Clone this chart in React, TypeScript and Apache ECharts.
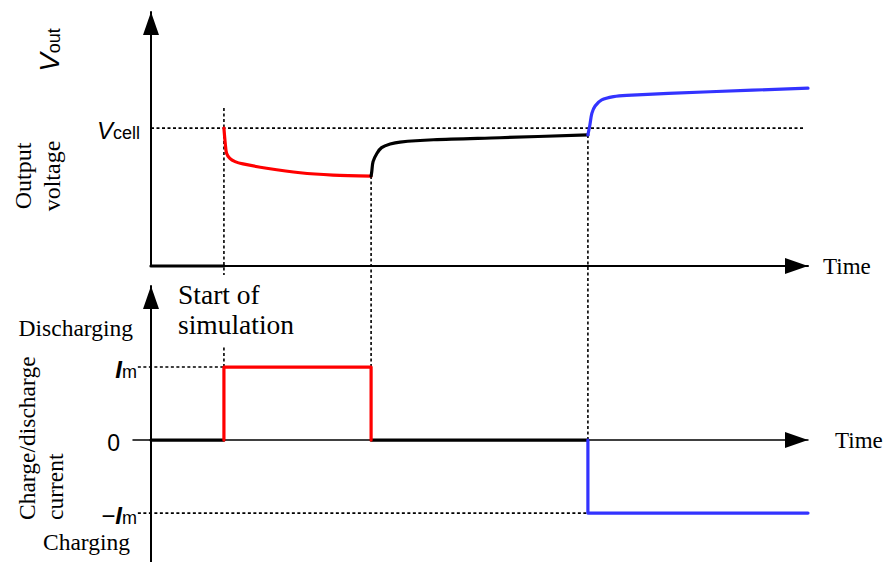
import React, { useEffect, useRef } from "react";
import * as echarts from "echarts";

// ---- event times (abstract time units, axis 0..100) ----
const tStart = 11.1;
const tRest = 33.5;
const tCharge = 66.5;
const tEnd = 100;

// ---- voltage panel (abstract units, axis 0..100) ----
const vCell = 54.3;
const idleTime = [0, tStart];
const idleVoltage = [0, 0];
const dischargeTime = [11.1, 11.3, 11.5, 12.0, 12.8, 14.0, 17.6, 22.7, 27.7, 33.5];
const dischargeVoltage = [54.3, 48.3, 44.4, 42.4, 41.1, 40.2, 38.5, 36.7, 35.8, 35.4];
const restTime = [33.5, 33.6, 33.8, 34.4, 35.1, 36.4, 37.9, 43.0, 53.1, 66.5];
const restVoltage = [35.4, 37.1, 41.1, 44.4, 46.6, 48.0, 48.8, 49.7, 50.5, 51.6];
const chargeTime = [66.5, 66.8, 67.1, 67.6, 68.6, 70.4, 72.4, 85.1, 100];
const chargeVoltage = [51.6, 55.5, 60.1, 63.0, 65.4, 66.7, 67.2, 68.6, 70.0];

// ---- current panel (Im = 1) ----
const Im = 1;
const idleCurrentTime = [0, tStart];
const idleCurrent = [0, 0];
const dischargeCurrentTime = [tStart, tStart, tRest, tRest];
const dischargeCurrent = [0, Im, Im, 0];
const restCurrentTime = [tRest, tCharge];
const restCurrent = [0, 0];
const chargeCurrentTime = [tCharge, tCharge, tEnd];
const chargeCurrent = [0, -Im, -Im];

// tick labels
const voltageTicks = [vCell];
const currentTicks = [-Im, 0, Im];

const SERIF = '"Times New Roman", "Liberation Serif", serif';
const SANS = 'Arial, "Liberation Sans", sans-serif';
const RED = "#ff0000";
const BLUE = "#3333ff";

// layout
const W = 885;
const H = 562;
const TOP_GRID = { left: 151, right: 77, top: 12, height: 254 };
const BOT_GRID = { left: 133, right: 77, top: 286, bottom: 0 };
const V_MIN = 0;
const V_MAX = 100;
const I_MIN = -1.67;
const I_MAX = 2.11;
const X_MAX = 100;
const pxPerT = (W - TOP_GRID.left - TOP_GRID.right) / X_MAX;
const BOT_X_MIN = -(TOP_GRID.left - BOT_GRID.left) / pxPerT;
const pxPerV = TOP_GRID.height / (V_MAX - V_MIN);
const gapV = -(BOT_GRID.top - (TOP_GRID.top + TOP_GRID.height)) / pxPerV;

const zip = (a: number[], b: number[]) => a.map((v, i) => [v, b[i]]);

const richLabel = {
  v: { fontFamily: SANS, fontStyle: "italic", fontSize: 24, lineHeight: 28, verticalAlign: "bottom", color: "#000" },
  vb: { fontFamily: SANS, fontStyle: "italic", fontWeight: "bold", fontSize: 24, lineHeight: 28, verticalAlign: "bottom", color: "#000" },
  s: { fontFamily: SANS, fontSize: 18, lineHeight: 21, verticalAlign: "bottom", color: "#000" },
  z: { fontFamily: SANS, fontSize: 23, lineHeight: 28, verticalAlign: "bottom", color: "#000", padding: [0, 17, 0, 0] },
};

const guide = (xi: number, yi: number, pts: number[][]) => ({
  type: "line",
  xAxisIndex: xi,
  yAxisIndex: yi,
  data: pts,
  symbol: "none",
  clip: false,
  silent: true,
  lineStyle: { color: "#000", width: 1.6, type: [3, 2.5] },
  z: 1,
});

const curve = (xi: number, yi: number, pts: number[][], color: string, smooth: number | boolean) => ({
  type: "line",
  xAxisIndex: xi,
  yAxisIndex: yi,
  data: pts,
  symbol: "none",
  clip: false,
  smooth,
  silent: true,
  lineStyle: { color, width: 3.2, cap: "round", join: "round" },
  z: 3,
});

const axisLine = (width: number, size: number[]) => ({
  show: true,
  onZero: true,
  symbol: ["none", "triangle"],
  symbolSize: size,
  symbolOffset: [0, -size[1] / 2],
  lineStyle: { color: "#000", width },
});

export default function App() {
  const ref = useRef<HTMLDivElement>(null);
  useEffect(() => {
    if (!ref.current) return;
    const chart = echarts.init(ref.current, null, { renderer: "svg" });
    const option: any = {
      animation: false,
      backgroundColor: "#fff",
      grid: [TOP_GRID, BOT_GRID],
      xAxis: [
        {
          type: "value",
          gridIndex: 0,
          min: 0,
          max: X_MAX,
          axisLine: axisLine(2, [16, 23]),
          axisTick: { show: false },
          axisLabel: { show: false },
          splitLine: { show: false },
          name: "Time",
          nameLocation: "end",
          nameGap: 15,
          nameTextStyle: { fontFamily: SERIF, fontSize: 23, color: "#000", verticalAlign: "middle" },
        },
        {
          type: "value",
          gridIndex: 1,
          min: BOT_X_MIN,
          max: X_MAX,
          axisLine: axisLine(1.5, [16, 23]),
          axisTick: { show: false },
          axisLabel: { show: false },
          splitLine: { show: false },
          name: "Time",
          nameLocation: "end",
          nameGap: 27,
          nameTextStyle: { fontFamily: SERIF, fontSize: 23, color: "#000", verticalAlign: "middle", padding: [0, 0, 4, 0] },
        },
      ],
      yAxis: [
        {
          type: "value",
          gridIndex: 0,
          min: V_MIN,
          max: V_MAX,
          axisLine: axisLine(2, [16, 23]),
          axisTick: { show: false },
          splitLine: { show: false },
          axisLabel: {
            show: true,
            customValues: voltageTicks,
            margin: 11,
            formatter: () => "{v|V}{s|cell}",
            rich: richLabel,
          },
        },
        {
          type: "value",
          gridIndex: 1,
          min: I_MIN,
          max: I_MAX,
          axisLine: axisLine(2, [16, 23]),
          axisTick: { show: false },
          splitLine: { show: false },
          axisLabel: {
            show: true,
            customValues: currentTicks,
            margin: -4,
            formatter: (v: number) => (v > 0 ? "{vb|I}{s|m}" : v < 0 ? "{v|\u2212}{vb|I}{s|m}" : "{z|0}"),
            rich: richLabel,
          },
        },
      ],
      series: [
        // guides, voltage panel
        guide(0, 0, [[0, vCell], [99.5, vCell]]),
        guide(0, 0, [[tStart, 62.2], [tStart, -3.5]]),
        guide(0, 0, [[tRest, restVoltage[0]], [tRest, gapV]]),
        guide(0, 0, [[tCharge, chargeVoltage[0]], [tCharge, gapV]]),
        // guides, current panel
        guide(1, 1, [[-2.0, Im], [tStart, Im]]),
        guide(1, 1, [[-2.0, -Im], [tCharge, -Im]]),
        guide(1, 1, [[tStart, Im], [tStart, Im + 0.3]]),
        guide(1, 1, [[tRest, Im], [tRest, I_MAX]]),
        guide(1, 1, [[tCharge, 0], [tCharge, I_MAX]]),
        // voltage curves
        curve(0, 0, zip(idleTime, idleVoltage), "#000", false),
        curve(0, 0, zip(dischargeTime, dischargeVoltage), RED, 0.3),
        curve(0, 0, zip(restTime, restVoltage), "#000", 0.3),
        curve(0, 0, zip(chargeTime, chargeVoltage), BLUE, 0.3),
        // current steps
        curve(1, 1, zip(idleCurrentTime, idleCurrent), "#000", false),
        curve(1, 1, zip(restCurrentTime, restCurrent), "#000", false),
        curve(1, 1, zip(dischargeCurrentTime, dischargeCurrent), RED, false),
        curve(1, 1, zip(chargeCurrentTime, chargeCurrent), BLUE, false),
      ],
      graphic: [
        {
          type: "text",
          x: 47,
          y: 50,
          rotation: Math.PI / 2,
          style: {
            text: "{v|V}{s|out}",
            align: "center",
            verticalAlign: "middle",
            rich: {
              v: { fontFamily: SANS, fontStyle: "italic", fontSize: 28, lineHeight: 32, verticalAlign: "bottom", fill: "#000" },
              s: { fontFamily: SANS, fontSize: 18, lineHeight: 21, verticalAlign: "bottom", fill: "#000" },
            },
          },
        },
        {
          type: "text",
          x: 37,
          y: 176,
          rotation: Math.PI / 2,
          style: {
            text: "Output\nvoltage",
            font: `24px ${SERIF}`,
            lineHeight: 29,
            align: "center",
            verticalAlign: "middle",
            fill: "#000",
          },
        },
        {
          type: "text",
          x: 178,
          y: 309,
          style: {
            text: "Start of\nsimulation",
            font: `27.5px ${SERIF}`,
            lineHeight: 30,
            align: "left",
            verticalAlign: "middle",
            fill: "#000",
          },
        },
        {
          type: "text",
          x: 133,
          y: 328,
          style: { text: "Discharging", font: `23.5px ${SERIF}`, align: "right", verticalAlign: "middle", fill: "#000" },
        },
        {
          type: "text",
          x: 41,
          y: 520,
          rotation: Math.PI / 2,
          style: {
            text: "Charge/discharge\ncurrent",
            font: `23.5px ${SERIF}`,
            lineHeight: 28,
            align: "left",
            verticalAlign: "middle",
            fill: "#000",
          },
        },
        {
          type: "text",
          x: 130,
          y: 542,
          style: { text: "Charging", font: `23.5px ${SERIF}`, align: "right", verticalAlign: "middle", fill: "#000" },
        },
      ],
    };
    chart.setOption(option);
    return () => chart.dispose();
  }, []);
  return (
    <div
      ref={ref}
      style={{ position: "fixed", left: 0, top: 0, width: W, height: H, background: "#fff" }}
    />
  );
}
